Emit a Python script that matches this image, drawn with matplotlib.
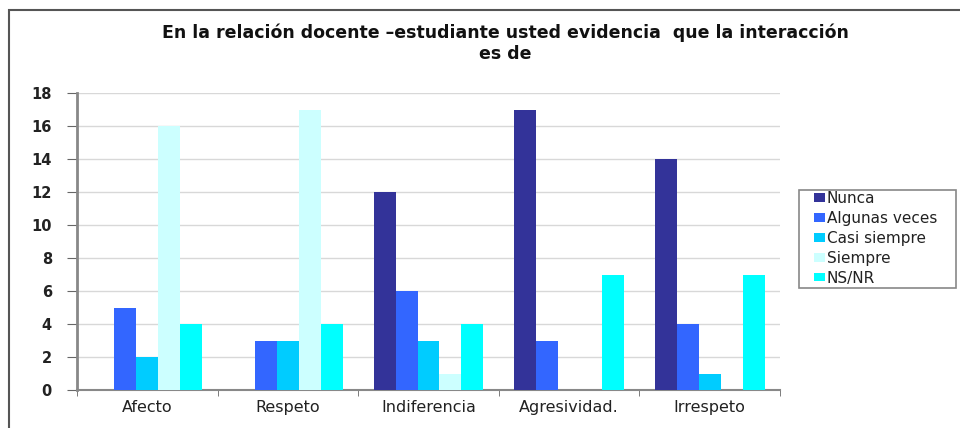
import matplotlib
matplotlib.use("Agg")
import matplotlib.pyplot as plt
import numpy as np
from matplotlib.patches import Rectangle

categories = ["Afecto", "Respeto", "Indiferencia", "Agresividad.", "Irrespeto"]
series_names = ["Nunca", "Algunas veces", "Casi siempre", "Siempre", "NS/NR"]
nunca = [0, 0, 12, 17, 14]
algunas = [5, 3, 6, 3, 4]
casi = [2, 3, 3, 0, 1]
siempre = [16, 17, 1, 0, 0]
nsnr = [4, 4, 4, 7, 7]
colors = ["#333399", "#3366FF", "#00CCFF", "#CCFFFF", "#00FFFF"]
yticks = [0, 2, 4, 6, 8, 10, 12, 14, 16, 18]

W, H = 960, 428
fig = plt.figure(figsize=(W/100, H/100), dpi=100)
ax = fig.add_axes([77/W, 1-390/H, (780-77)/W, (390-93)/H])

# outer chart frame
fig.patches.append(Rectangle((9/W, -0.1), 1.2, 1 - 10/H + 0.1, transform=fig.transFigure,
                             fill=False, edgecolor="#555555", linewidth=1.5))
# legend frame
fig.patches.append(Rectangle((799/W, 1-288/H), 157/W, 98/H, transform=fig.transFigure,
                             fill=True, facecolor="white", edgecolor="#888888", linewidth=1.2))

data = [nunca, algunas, casi, siempre, nsnr]
x = np.arange(len(categories))
w = 0.156
for i, (vals, c, name) in enumerate(zip(data, colors, series_names)):
    ax.bar(x + (i - 2) * w, vals, width=w, color=c, label=name, zorder=3)

ax.set_xlim(-0.5, len(categories) - 0.5)
ax.set_ylim(0, 18)
ax.set_yticks(yticks)
ax.set_yticklabels([str(t) for t in yticks], fontsize=10.5, color="#222222", fontweight="bold")
ax.set_xticks(x)
ax.set_xticklabels(categories, fontsize=11.5, color="#222222")
ax.set_xticks(np.arange(len(categories) + 1) - 0.5, minor=True)
ax.tick_params(axis="x", which="major", length=0, pad=7)
ax.tick_params(axis="x", which="minor", length=4, color="#666666")
ax.tick_params(axis="y", length=7, color="#666666", pad=11)
ax.grid(axis="y", color="#d8d8d8", linewidth=1, zorder=0)
for s in ["top", "right"]:
    ax.spines[s].set_visible(False)
ax.spines["left"].set_color("#888888")
ax.spines["left"].set_linewidth(2)
ax.spines["bottom"].set_color("#888888")
ax.spines["bottom"].set_linewidth(1.5)

fig.text(505/W, 1-43/H, "En la relación docente –estudiante usted evidencia  que la interacción\nes de",
         ha="center", va="center", fontsize=12.5, fontweight="bold", linespacing=1.2, color="#111111")

leg = fig.legend(loc="upper left", bbox_to_anchor=(814/W, 1-191/H), fontsize=11,
                 frameon=False, borderpad=0,
                 handlelength=0.7, handleheight=0.5, handletextpad=0.15, labelspacing=0.32,
                 borderaxespad=0)
for t in leg.get_texts():
    t.set_color("#222222")

fig.savefig("out.png", dpi=100)
